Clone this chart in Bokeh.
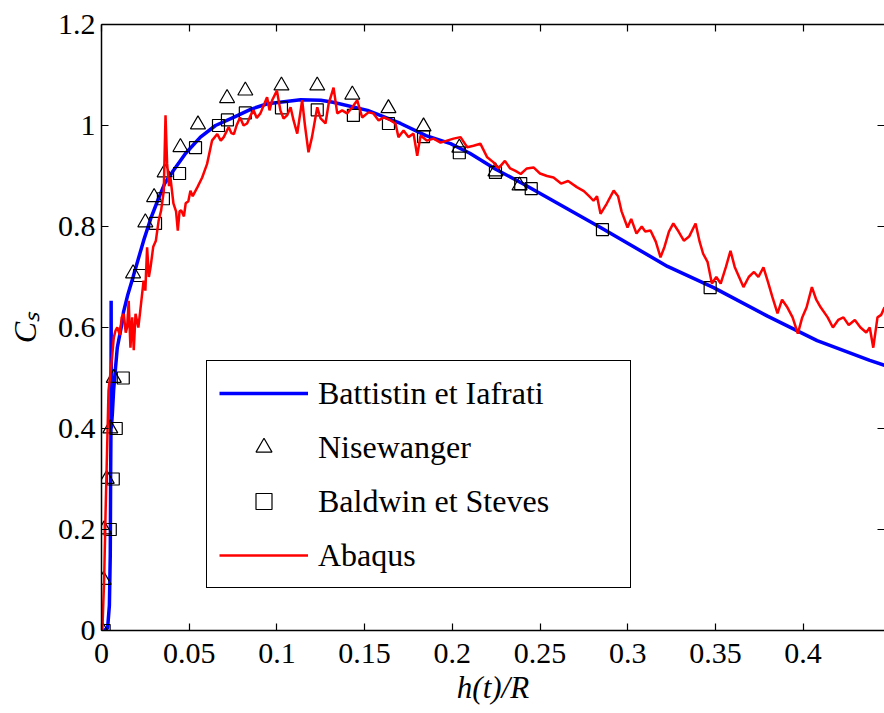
from bokeh.plotting import figure
from bokeh.models import LinearAxis, FixedTicker, Legend, LegendItem, Range1d
from bokeh.embed import file_html
from bokeh.resources import INLINE

# ---------------- data ----------------
x_ticks = [0, 0.05, 0.1, 0.15, 0.2, 0.25, 0.3, 0.35, 0.4]
x_tick_labels = ["0", "0.05", "0.1", "0.15", "0.2", "0.25", "0.3", "0.35", "0.4"]
y_ticks = [0, 0.2, 0.4, 0.6, 0.8, 1, 1.2]
y_tick_labels = ["0", "0.2", "0.4", "0.6", "0.8", "1", "1.2"]

battistin_x = [0.0015, 0.0035, 0.0045, 0.005, 0.0052, 0.0054, 0.0055, 0.0056, 0.0062,
               0.0069, 0.008, 0.009, 0.012, 0.0125, 0.015, 0.018, 0.024, 0.028, 0.032,
               0.036, 0.041, 0.048, 0.0564, 0.065, 0.0753, 0.085, 0.0946, 0.1135, 0.125,
               0.132, 0.1517, 0.1705, 0.185, 0.199, 0.21, 0.225, 0.24, 0.2845, 0.3227,
               0.349, 0.38, 0.408, 0.438, 0.4464]
battistin_y = [0.0, 0.005, 0.05, 0.15, 0.30, 0.40, 0.653, 0.40, 0.43,
               0.475, 0.52, 0.56, 0.614, 0.63, 0.665, 0.70, 0.772, 0.815, 0.851,
               0.885, 0.911, 0.945, 0.977, 1.0, 1.016, 1.032, 1.043, 1.051, 1.05,
               1.046, 1.03, 1.004, 0.98, 0.964, 0.945, 0.913, 0.885, 0.798, 0.721,
               0.679, 0.622, 0.574, 0.535, 0.525]

nisewanger_x = [0.0005, 0.0012, 0.0015, 0.003, 0.005, 0.007, 0.018, 0.025, 0.030, 0.036,
                0.045, 0.055, 0.0716, 0.082, 0.1026, 0.123, 0.143, 0.1636, 0.1836,
                0.204, 0.2246, 0.2383]
nisewanger_y = [0.0, 0.1, 0.2, 0.3, 0.4, 0.5, 0.707, 0.808, 0.858, 0.907,
                0.957, 1.002, 1.054, 1.069, 1.079, 1.079, 1.061, 1.034, 0.998,
                0.956, 0.909, 0.881]

baldwin_x = [0.0015, 0.005, 0.0067, 0.0084, 0.0124, 0.0217, 0.0308, 0.0353, 0.0445,
             0.0536, 0.0667, 0.0718, 0.082, 0.1026, 0.123, 0.1436, 0.1636, 0.1836,
             0.204, 0.2246, 0.239, 0.245, 0.2856, 0.347]
baldwin_y = [0.0, 0.2, 0.3, 0.4, 0.5, 0.703, 0.806, 0.855, 0.905,
             0.956, 1.0, 1.011, 1.025, 1.035, 1.031, 1.02, 1.004, 0.978,
             0.946, 0.907, 0.885, 0.875, 0.794, 0.679]

abaqus_x = [0.0005, 0.0015, 0.0023, 0.0032, 0.004, 0.0048, 0.006, 0.007, 0.008, 0.009,
            0.0105, 0.0115, 0.0127, 0.0138, 0.0146, 0.0155, 0.0165, 0.0175, 0.0184, 0.0194,
            0.021, 0.022, 0.024, 0.025, 0.026, 0.027, 0.028, 0.0295, 0.031, 0.0326,
            0.034, 0.0355, 0.0365, 0.0374, 0.0385, 0.0393, 0.041, 0.0425, 0.0435, 0.0445,
            0.0454, 0.047, 0.048, 0.0495, 0.0507, 0.052, 0.0547, 0.0574, 0.0602, 0.063,
            0.066, 0.068, 0.0697, 0.0725, 0.074, 0.0755, 0.077, 0.079, 0.081, 0.083,
            0.085, 0.0867, 0.0885, 0.0906, 0.0925, 0.0944, 0.0958, 0.0973, 0.1, 0.102,
            0.1038, 0.1058, 0.1078, 0.1095, 0.1116, 0.1144, 0.116, 0.118, 0.120, 0.123,
            0.1249, 0.1277, 0.1295, 0.1323, 0.1344, 0.1372, 0.140, 0.143, 0.1458, 0.1486,
            0.1522, 0.155, 0.158, 0.161, 0.1648, 0.1676, 0.1693, 0.1722, 0.175, 0.1779,
            0.180, 0.1819, 0.1856, 0.1893, 0.1933, 0.197, 0.2007, 0.2047, 0.2085, 0.2121,
            0.216, 0.2199, 0.2235, 0.2263, 0.230, 0.233, 0.236, 0.239, 0.2425, 0.2463,
            0.250, 0.254, 0.2577, 0.262, 0.266, 0.271, 0.275, 0.278, 0.2805, 0.2825,
            0.2845, 0.288, 0.292, 0.2945, 0.2965, 0.2999, 0.302, 0.305, 0.308, 0.310,
            0.313, 0.316, 0.3187, 0.321, 0.3235, 0.326, 0.329, 0.332, 0.335, 0.3387,
            0.341, 0.343, 0.3455, 0.348, 0.3505, 0.353, 0.356, 0.3586, 0.361, 0.3635,
            0.366, 0.369, 0.372, 0.3745, 0.3774, 0.380, 0.3825, 0.3854, 0.388, 0.391,
            0.394, 0.397, 0.3995, 0.402, 0.405, 0.4075, 0.410, 0.414, 0.417, 0.420,
            0.423, 0.426, 0.4295, 0.4327, 0.436, 0.438, 0.440, 0.4424, 0.4445, 0.4464]
abaqus_y = [0.0, 0.1, 0.23, 0.36, 0.475, 0.50, 0.54, 0.58, 0.594, 0.60,
            0.585, 0.62, 0.627, 0.59, 0.60, 0.653, 0.56, 0.62, 0.555, 0.627,
            0.60, 0.63, 0.693, 0.673, 0.759, 0.70, 0.72, 0.76, 0.772, 0.812,
            0.832, 0.87, 1.02, 0.925, 0.88, 0.897, 0.846, 0.83, 0.792, 0.83,
            0.832, 0.82, 0.846, 0.85, 0.871, 0.86, 0.878, 0.897, 0.924, 0.97,
            0.983, 0.97, 0.977, 0.997, 0.985, 0.983, 1.0, 1.016, 1.0, 1.004,
            1.02, 1.03, 1.015, 1.024, 1.04, 1.056, 1.03, 1.05, 1.069, 1.03,
            1.014, 1.02, 1.036, 1.01, 0.984, 1.05, 1.0, 0.947, 0.977, 1.036,
            1.014, 1.004, 1.043, 1.075, 1.024, 1.03, 1.024, 1.036, 1.05, 1.016,
            1.026, 1.024, 1.01, 1.016, 1.01, 1.004, 0.977, 0.99, 0.977, 0.984,
            0.94, 0.98, 0.970, 0.974, 0.966, 0.970, 0.974, 0.977, 0.957, 0.960,
            0.964, 0.937, 0.927, 0.915, 0.93, 0.915, 0.91, 0.904, 0.915, 0.917,
            0.905, 0.90, 0.897, 0.885, 0.89, 0.878, 0.87, 0.86, 0.851, 0.86,
            0.825, 0.845, 0.871, 0.86, 0.83, 0.798, 0.815, 0.786, 0.80, 0.79,
            0.792, 0.77, 0.739, 0.76, 0.79, 0.806, 0.79, 0.772, 0.78, 0.806,
            0.77, 0.746, 0.73, 0.687, 0.70, 0.687, 0.72, 0.752, 0.72, 0.70,
            0.68, 0.70, 0.71, 0.70, 0.719, 0.69, 0.66, 0.628, 0.655, 0.64,
            0.62, 0.588, 0.62, 0.64, 0.68, 0.655, 0.64, 0.62, 0.60, 0.615,
            0.62, 0.605, 0.615, 0.60, 0.59, 0.60, 0.56, 0.62, 0.625, 0.64]

# ---------------- figure ----------------
SERIF = "'Liberation Serif', 'Times New Roman', serif"

p = figure(width=884, height=713,
           x_range=Range1d(0, 0.4464), y_range=Range1d(0, 1.2),
           output_backend="svg", toolbar_location=None,
           min_border_left=101, min_border_right=0,
           min_border_top=24, min_border_bottom=83,
           background_fill_color="white", border_fill_color="white")
p.outline_line_color = None
p.grid.visible = False

xt = FixedTicker(ticks=x_ticks, minor_ticks=[])
yt = FixedTicker(ticks=y_ticks, minor_ticks=[])

xa = p.xaxis[0]
xa.ticker = xt
xa.major_label_overrides = dict(zip(x_ticks, x_tick_labels))
ya = p.yaxis[0]
ya.ticker = yt
ya.major_label_overrides = dict(zip(y_ticks, y_tick_labels))

for ax in (xa, ya):
    ax.major_tick_in = 7
    ax.major_tick_out = 0
    ax.minor_tick_in = 0
    ax.minor_tick_out = 0
    ax.axis_line_width = 1.5
    ax.axis_line_color = "black"
    ax.major_tick_line_color = "black"
    ax.major_tick_line_width = 1.2
    ax.major_label_text_font = SERIF
    ax.major_label_text_font_size = "30px"
    ax.major_label_text_color = "black"

xa.major_label_standoff = 13
ya.major_label_standoff = 6
xa.axis_label = "h(t)/R"
xa.axis_label_text_font = SERIF
xa.axis_label_text_font_style = "italic"
xa.axis_label_text_font_size = "31px"
xa.axis_label_standoff = 4
xa.axis_label_text_color = "black"
ya.axis_label = "Cₛ"
ya.axis_label_text_font = SERIF
ya.axis_label_text_font_style = "italic"
ya.axis_label_text_font_size = "32px"
ya.axis_label_standoff = 12
ya.axis_label_text_color = "black"

for loc, tk, ticks in (("above", xt, x_ticks), ("right", yt, y_ticks)):
    ax = LinearAxis(ticker=tk, major_tick_in=7, major_tick_out=0,
                    minor_tick_in=0, minor_tick_out=0,
                    major_label_overrides={t: "" for t in ticks},
                    major_label_text_font_size="1px", major_label_standoff=0,
                    axis_line_width=1.5, major_tick_line_width=1.2)
    if loc == "right":
        ax.axis_line_color = None
    p.add_layout(ax, loc)

r_bat = p.line(battistin_x, battistin_y, line_color="#0000ff", line_width=3.5)
r_nis = p.scatter(nisewanger_x, nisewanger_y, marker="triangle", size=15,
                  fill_color=None, line_color="black", line_width=1.2)
r_bal = p.scatter(baldwin_x, baldwin_y, marker="square", size=12,
                  fill_color=None, line_color="black", line_width=1.2)
r_aba = p.line(abaqus_x, abaqus_y, line_color="#ff0000", line_width=2.5)

legend = Legend(items=[
    LegendItem(label="Battistin et Iafrati", renderers=[r_bat]),
    LegendItem(label="Nisewanger", renderers=[r_nis]),
    LegendItem(label="Baldwin et Steves", renderers=[r_bal]),
    LegendItem(label="Abaqus", renderers=[r_aba]),
], location=(105, 42))
legend.margin = 0
legend.padding = 12
legend.spacing = 14
legend.glyph_width = 89
legend.glyph_height = 40
legend.label_standoff = 10
legend.label_width = 300
legend.label_text_font = SERIF
legend.label_text_font_size = "32px"
legend.label_text_color = "black"
legend.border_line_color = "black"
legend.border_line_alpha = 1.0
legend.border_line_width = 1.5
legend.background_fill_color = "white"
legend.background_fill_alpha = 1.0
p.add_layout(legend, "center")

open("out.html", "w").write(file_html(p, INLINE))
